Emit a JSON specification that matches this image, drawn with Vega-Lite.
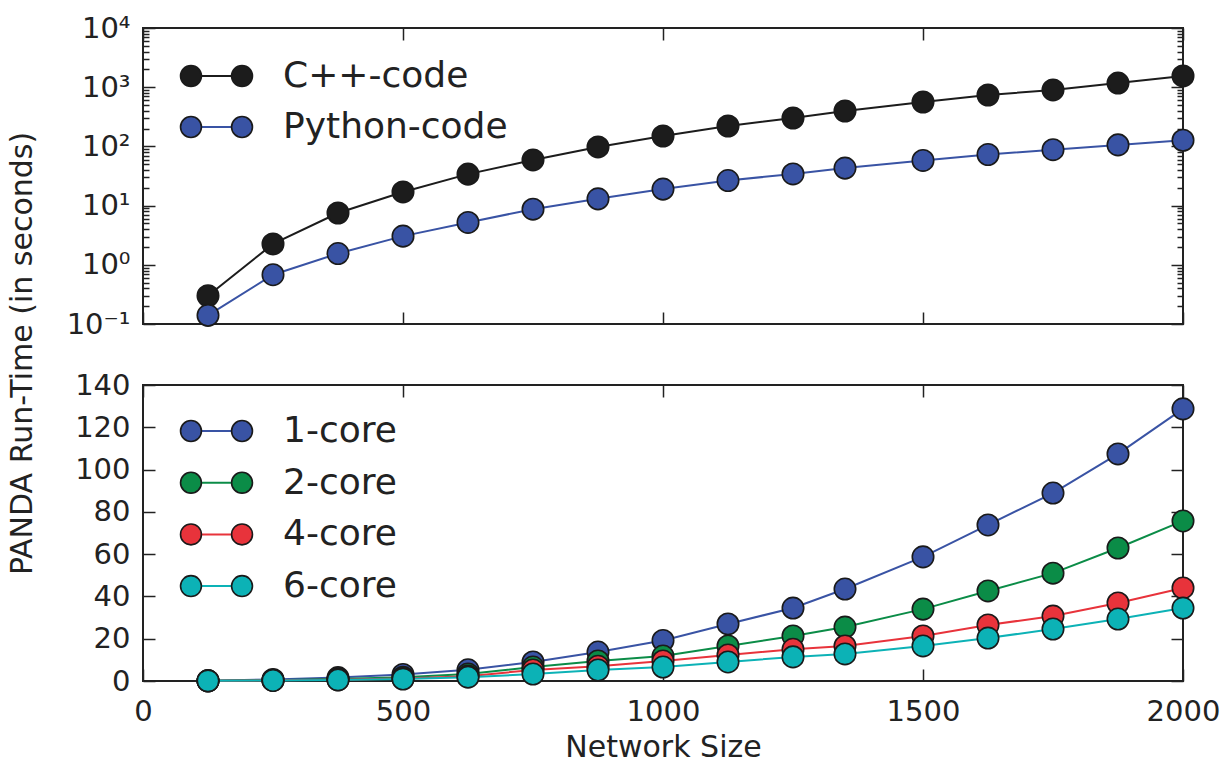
{
  "$schema": "https://vega.github.io/schema/vega-lite/v6.json",
  "padding": {"left": 5, "top": 13, "right": 10, "bottom": 5},
  "bounds": "flush",
  "spacing": 61,
  "resolve": {"scale": {"fill": "independent", "stroke": "independent"}, "legend": {"fill": "independent", "stroke": "independent"}},
  "config": {
    "view": {"stroke": "#222222", "strokeWidth": 2},
    "font": "DejaVu Sans",
    "axis": {
      "domain": false, "grid": false,
      "labelFont": "DejaVu Sans", "labelFontSize": 29, "labelColor": "#222222",
      "tickColor": "#222222", "tickWidth": 1.5,
      "titleColor": "#222222", "titleFont": "DejaVu Sans", "titleFontSize": 30, "titleFontWeight": "normal",
      "labelFlush": false, "labelOverlap": false
    },
    "legend": {
      "padding": 0, "labelFont": "DejaVu Sans", "labelFontSize": 36, "labelColor": "#222222", "labelLimit": 500,
      "symbolSize": 484, "labelOffset": 48.5, "rowPadding": 15, "title": null
    }
  },
  "datasets": {
    "code": [
      {"series": "C++-code", "size": 125, "time": 0.30},
      {"series": "C++-code", "size": 250, "time": 2.25},
      {"series": "C++-code", "size": 375, "time": 7.5},
      {"series": "C++-code", "size": 500, "time": 17},
      {"series": "C++-code", "size": 625, "time": 34},
      {"series": "C++-code", "size": 750, "time": 59},
      {"series": "C++-code", "size": 875, "time": 98},
      {"series": "C++-code", "size": 1000, "time": 150},
      {"series": "C++-code", "size": 1125, "time": 221},
      {"series": "C++-code", "size": 1250, "time": 302},
      {"series": "C++-code", "size": 1350, "time": 396},
      {"series": "C++-code", "size": 1500, "time": 562},
      {"series": "C++-code", "size": 1625, "time": 738},
      {"series": "C++-code", "size": 1750, "time": 898},
      {"series": "C++-code", "size": 1875, "time": 1175},
      {"series": "C++-code", "size": 2000, "time": 1550},
      {"series": "Python-code", "size": 125, "time": 0.14},
      {"series": "Python-code", "size": 250, "time": 0.68},
      {"series": "Python-code", "size": 375, "time": 1.55},
      {"series": "Python-code", "size": 500, "time": 3.05},
      {"series": "Python-code", "size": 625, "time": 5.2},
      {"series": "Python-code", "size": 750, "time": 8.7},
      {"series": "Python-code", "size": 875, "time": 13},
      {"series": "Python-code", "size": 1000, "time": 19},
      {"series": "Python-code", "size": 1125, "time": 26.5},
      {"series": "Python-code", "size": 1250, "time": 34.3},
      {"series": "Python-code", "size": 1350, "time": 43},
      {"series": "Python-code", "size": 1500, "time": 58},
      {"series": "Python-code", "size": 1625, "time": 73},
      {"series": "Python-code", "size": 1750, "time": 88},
      {"series": "Python-code", "size": 1875, "time": 106},
      {"series": "Python-code", "size": 2000, "time": 127}
    ],
    "cores": [
      {"series": "1-core", "size": 125, "time": 0.14},
      {"series": "1-core", "size": 250, "time": 0.7},
      {"series": "1-core", "size": 375, "time": 1.6},
      {"series": "1-core", "size": 500, "time": 3.1},
      {"series": "1-core", "size": 625, "time": 5.3},
      {"series": "1-core", "size": 750, "time": 9},
      {"series": "1-core", "size": 875, "time": 13.7},
      {"series": "1-core", "size": 1000, "time": 19.2},
      {"series": "1-core", "size": 1125, "time": 27},
      {"series": "1-core", "size": 1250, "time": 34.5},
      {"series": "1-core", "size": 1350, "time": 43.5},
      {"series": "1-core", "size": 1500, "time": 58.7},
      {"series": "1-core", "size": 1625, "time": 73.8},
      {"series": "1-core", "size": 1750, "time": 88.9},
      {"series": "1-core", "size": 1875, "time": 107.4},
      {"series": "1-core", "size": 2000, "time": 128.7},
      {"series": "2-core", "size": 125, "time": 0.1},
      {"series": "2-core", "size": 250, "time": 0.4},
      {"series": "2-core", "size": 375, "time": 1.0},
      {"series": "2-core", "size": 500, "time": 1.8},
      {"series": "2-core", "size": 625, "time": 3.3},
      {"series": "2-core", "size": 750, "time": 6.6},
      {"series": "2-core", "size": 875, "time": 9.5},
      {"series": "2-core", "size": 1000, "time": 11.8},
      {"series": "2-core", "size": 1125, "time": 16.6},
      {"series": "2-core", "size": 1250, "time": 21.3},
      {"series": "2-core", "size": 1350, "time": 25.5},
      {"series": "2-core", "size": 1500, "time": 34},
      {"series": "2-core", "size": 1625, "time": 42.6},
      {"series": "2-core", "size": 1750, "time": 51},
      {"series": "2-core", "size": 1875, "time": 62.9},
      {"series": "2-core", "size": 2000, "time": 75.7},
      {"series": "4-core", "size": 125, "time": 0.08},
      {"series": "4-core", "size": 250, "time": 0.3},
      {"series": "4-core", "size": 375, "time": 0.6},
      {"series": "4-core", "size": 500, "time": 1.2},
      {"series": "4-core", "size": 625, "time": 2.3},
      {"series": "4-core", "size": 750, "time": 5.2},
      {"series": "4-core", "size": 875, "time": 7},
      {"series": "4-core", "size": 1000, "time": 9.5},
      {"series": "4-core", "size": 1125, "time": 12.3},
      {"series": "4-core", "size": 1250, "time": 15},
      {"series": "4-core", "size": 1350, "time": 16.6},
      {"series": "4-core", "size": 1500, "time": 21.3},
      {"series": "4-core", "size": 1625, "time": 26.5},
      {"series": "4-core", "size": 1750, "time": 30.7},
      {"series": "4-core", "size": 1875, "time": 36.9},
      {"series": "4-core", "size": 2000, "time": 44},
      {"series": "6-core", "size": 125, "time": 0.06},
      {"series": "6-core", "size": 250, "time": 0.25},
      {"series": "6-core", "size": 375, "time": 0.5},
      {"series": "6-core", "size": 500, "time": 0.9},
      {"series": "6-core", "size": 625, "time": 1.8},
      {"series": "6-core", "size": 750, "time": 3.3},
      {"series": "6-core", "size": 875, "time": 5.2},
      {"series": "6-core", "size": 1000, "time": 6.6},
      {"series": "6-core", "size": 1125, "time": 9},
      {"series": "6-core", "size": 1250, "time": 11.4},
      {"series": "6-core", "size": 1350, "time": 12.8},
      {"series": "6-core", "size": 1500, "time": 16.6},
      {"series": "6-core", "size": 1625, "time": 20.3},
      {"series": "6-core", "size": 1750, "time": 24.6},
      {"series": "6-core", "size": 1875, "time": 29.3},
      {"series": "6-core", "size": 2000, "time": 34.5}
    ]
  },
  "vconcat": [
    {
      "width": 1040, "height": 296,
      "data": {"name": "code"},
      "layer": [
        {
          "mark": {"type": "line", "strokeWidth": 2},
          "encoding": {
            "x": {"field": "size", "type": "quantitative", "scale": {"domain": [0, 2000], "nice": false},
              "axis": {"orient": "bottom", "values": [0, 500, 1000, 1500, 2000], "labels": false, "tickSize": -12, "title": null}},
            "y": {"field": "time", "type": "quantitative", "scale": {"type": "log", "domain": [0.1, 10000], "nice": false},
              "axis": {"orient": "left", "title": null, "labelPadding": 25,
                "values": [0.1,0.2,0.3,0.4,0.5,0.6,0.7,0.8,0.9,1,2,3,4,5,6,7,8,9,10,20,30,40,50,60,70,80,90,100,200,300,400,500,600,700,800,900,1000,2000,3000,4000,5000,6000,7000,8000,9000,10000],
                "tickSize": {"condition": {"test": "datum.value == 0.1 || datum.value == 1 || datum.value == 10 || datum.value == 100 || datum.value == 1000 || datum.value == 10000", "value": -12}, "value": -6},
                "labelExpr": "datum.value == 10000 ? '10⁴' : datum.value == 1000 ? '10³' : datum.value == 100 ? '10²' : datum.value == 10 ? '10¹' : datum.value == 1 ? '10⁰' : datum.value == 0.1 ? '10⁻¹' : ''"}},
            "stroke": {"field": "series", "type": "nominal", "scale": {"range": ["#1c1c1c", "#3953a4"]},
              "legend": {"orient": "none", "legendX": 55.5, "legendY": 30, "symbolType": "M-2.32,0L2.32,0", "symbolStrokeWidth": 2, "labelOpacity": 0}}
          }
        },
        {
          "mark": {"type": "point", "filled": true, "size": 460, "stroke": "#1a1a1a", "strokeWidth": 1.6, "opacity": 1},
          "encoding": {
            "x": {"field": "size", "type": "quantitative", "scale": {"domain": [0, 2000], "nice": false},
              "axis": {"orient": "top", "values": [0, 500, 1000, 1500, 2000], "labels": false, "tickSize": -12, "title": null}},
            "y": {"field": "time", "type": "quantitative", "scale": {"type": "log", "domain": [0.1, 10000], "nice": false},
              "axis": {"orient": "right", "title": null, "labels": false,
                "values": [0.1,0.2,0.3,0.4,0.5,0.6,0.7,0.8,0.9,1,2,3,4,5,6,7,8,9,10,20,30,40,50,60,70,80,90,100,200,300,400,500,600,700,800,900,1000,2000,3000,4000,5000,6000,7000,8000,9000,10000],
                "tickSize": {"condition": {"test": "datum.value == 0.1 || datum.value == 1 || datum.value == 10 || datum.value == 100 || datum.value == 1000 || datum.value == 10000", "value": -12}, "value": -6}}},
            "fill": {"field": "series", "type": "nominal", "scale": {"domain": ["C++-code", "Python-code"], "range": ["#1c1c1c", "#3953a4"]},
              "legend": {"orient": "none", "legendX": 55.5, "legendY": 30,
                "symbolType": "M-1.37,0A0.95,0.95 0 1,0 -3.27,0A0.95,0.95 0 1,0 -1.37,0Z M3.27,0A0.95,0.95 0 1,0 1.37,0A0.95,0.95 0 1,0 3.27,0Z",
                "symbolStrokeColor": "#1a1a1a", "symbolStrokeWidth": 1.6, "symbolOpacity": 1}}
          }
        }
      ],
      "resolve": {"axis": {"x": "independent", "y": "independent"}, "legend": {"fill": "independent", "stroke": "independent"}}
    },
    {
      "width": 1040, "height": 296,
      "data": {"name": "cores"},
      "layer": [
        {
          "mark": {"type": "line", "strokeWidth": 2},
          "encoding": {
            "x": {"field": "size", "type": "quantitative", "scale": {"domain": [0, 2000], "nice": false},
              "axis": {"orient": "bottom", "values": [0, 500, 1000, 1500, 2000], "format": "d", "tickSize": -12, "labelPadding": 28,
                "labelFontSize": 29, "title": "Network Size", "titlePadding": 6}},
            "y": {"field": "time", "type": "quantitative", "scale": {"domain": [0, 140], "nice": false},
              "axis": {"orient": "left", "values": [0, 20, 40, 60, 80, 100, 120, 140], "tickSize": -12, "labelPadding": 25,
                "title": "PANDA Run-Time (in seconds)", "titleX": -121, "titleY": -32, "titleAngle": 270, "titleAlign": "center", "titleBaseline": "middle"}},
            "stroke": {"field": "series", "type": "nominal", "scale": {"range": ["#3953a4", "#0b8c47", "#e8333b", "#0cb2b6"]},
              "legend": {"orient": "none", "legendX": 55.5, "legendY": 28, "symbolType": "M-2.32,0L2.32,0", "symbolStrokeWidth": 2, "labelOpacity": 0, "rowPadding": 15.7}}
          }
        },
        {
          "mark": {"type": "point", "filled": true, "size": 460, "stroke": "#1a1a1a", "strokeWidth": 1.6, "opacity": 1},
          "encoding": {
            "x": {"field": "size", "type": "quantitative", "scale": {"domain": [0, 2000], "nice": false},
              "axis": {"orient": "top", "values": [0, 500, 1000, 1500, 2000], "labels": false, "tickSize": -12, "title": null}},
            "y": {"field": "time", "type": "quantitative", "scale": {"domain": [0, 140], "nice": false},
              "axis": {"orient": "right", "values": [0, 20, 40, 60, 80, 100, 120, 140], "labels": false, "tickSize": -12, "title": null}},
            "fill": {"field": "series", "type": "nominal", "scale": {"domain": ["1-core", "2-core", "4-core", "6-core"], "range": ["#3953a4", "#0b8c47", "#e8333b", "#0cb2b6"]},
              "legend": {"orient": "none", "legendX": 55.5, "legendY": 28, "rowPadding": 15.7,
                "symbolType": "M-1.37,0A0.95,0.95 0 1,0 -3.27,0A0.95,0.95 0 1,0 -1.37,0Z M3.27,0A0.95,0.95 0 1,0 1.37,0A0.95,0.95 0 1,0 3.27,0Z",
                "symbolStrokeColor": "#1a1a1a", "symbolStrokeWidth": 1.6, "symbolOpacity": 1}}
          }
        }
      ],
      "resolve": {"axis": {"x": "independent", "y": "independent"}, "legend": {"fill": "independent", "stroke": "independent"}}
    }
  ]
}
